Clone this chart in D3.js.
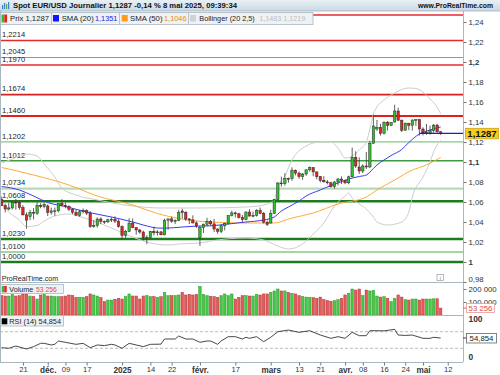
<!DOCTYPE html>
<html><head><meta charset="utf-8">
<script src="https://cdn.jsdelivr.net/npm/d3@7"></script>
<style>
body{margin:0;background:#fff}
svg{display:block;font-family:"Liberation Sans",Arial,sans-serif}
</style>
</head><body>
<svg id="c" width="500" height="375"></svg>
<script>
// ---------------- DATA ----------------
const tradingDays = [
 ["2024-11",[13,14,15,18,19,20,21,22,25,26,27,28,29]],
 ["2024-12",[2,3,4,5,6,9,10,11,12,13,16,17,18,19,20,23,24,26,27,30,31]],
 ["2025-01",[2,3,6,7,8,9,10,13,14,15,16,17,20,21,22,23,24,27,28,29,30,31]],
 ["2025-02",[3,4,5,6,7,10,11,12,13,14,17,18,19,20,21,24,25,26,27,28]],
 ["2025-03",[3,4,5,6,7,10,11,12,13,14,17,18,19,20,21,24,25,26,27,28,31]],
 ["2025-04",[1,2,3,4,7,8,9,10,11,14,15,16,17,18,21,22,23,24,25,28,29,30]],
 ["2025-05",[1,2,5,6,7,8]]
];
const futureDays = ["2025-05-09","2025-05-12","2025-05-13","2025-05-14","2025-05-15","2025-05-16"];

const open = [
 1.0623,1.0564,1.0530,1.0541,1.0598,1.0596,1.0544,1.0472,1.0455,1.0496,1.0488,1.0567,1.0553,
 1.0560,1.0497,1.0511,1.0512,1.0586,1.0565,1.0554,1.0527,1.0497,1.0468,1.0502,1.0513,1.0489,1.0353,1.0365,1.0430,1.0406,1.0402,1.0422,1.0427,1.0409,
 1.0354,1.0265,1.0307,1.0388,1.0343,1.0320,1.0300,1.0244,1.0244,1.0307,1.0292,1.0301,1.0272,1.0418,1.0431,1.0408,1.0414,1.0510,1.0494,1.0430,1.0421,1.0391,
 1.0245,1.0343,1.0378,1.0404,1.0381,1.0330,1.0307,1.0362,1.0384,1.0465,1.0491,1.0482,1.0446,1.0424,1.0500,1.0459,1.0466,1.0514,1.0486,1.0398,
 1.0390,1.0486,1.0625,1.0790,1.0784,1.0834,1.0833,1.0918,1.0889,1.0853,1.0880,1.0922,1.0944,1.0901,1.0853,1.0816,1.0801,1.0792,1.0754,1.0800,1.0830,
 1.0815,1.0792,1.0852,1.1047,1.0950,1.0910,1.0960,1.0950,1.1186,1.1330,1.1347,1.1287,1.1398,1.1365,1.1400,1.1510,1.1418,1.1318,1.1388,1.1366,1.1420,1.1424,
 1.1330,1.1292,1.1290,1.1315,1.1369,1.1302
];
const high = [
 1.0654,1.0584,1.0594,1.0609,1.0630,1.0609,1.0568,1.0496,1.0522,1.0540,1.0597,1.0588,1.0596,
 1.0577,1.0544,1.0545,1.0589,1.0629,1.0594,1.0567,1.0539,1.0525,1.0521,1.0536,1.0527,1.0510,1.0420,1.0446,1.0446,1.0414,1.0433,1.0447,1.0457,1.0427,
 1.0367,1.0321,1.0437,1.0436,1.0347,1.0331,1.0313,1.0267,1.0311,1.0354,1.0319,1.0310,1.0434,1.0434,1.0453,1.0427,1.0521,1.0533,1.0509,1.0440,1.0467,1.0407,
 1.0360,1.0385,1.0442,1.0420,1.0431,1.0336,1.0375,1.0395,1.0469,1.0513,1.0505,1.0492,1.0469,1.0505,1.0528,1.0505,1.0528,1.0545,1.0500,1.0416,
 1.0523,1.0630,1.0797,1.0854,1.0889,1.0845,1.0947,1.0925,1.0905,1.0890,1.0925,1.0955,1.0946,1.0903,1.0860,1.0858,1.0820,1.0803,1.0811,1.0840,1.0856,
 1.0823,1.0864,1.1144,1.1107,1.1046,1.0978,1.1100,1.1213,1.1473,1.1421,1.1381,1.1405,1.1410,1.1398,1.1573,1.1543,1.1425,1.1394,1.1391,1.1424,1.1425,1.1425,
 1.1347,1.1380,1.1364,1.1379,1.1381,1.1310
];
const low = [
 1.0560,1.0496,1.0516,1.0524,1.0523,1.0523,1.0463,1.0332,1.0418,1.0425,1.0471,1.0537,1.0537,
 1.0460,1.0474,1.0462,1.0497,1.0554,1.0537,1.0510,1.0480,1.0461,1.0451,1.0485,1.0469,1.0342,1.0343,1.0344,1.0380,1.0381,1.0389,1.0399,1.0389,1.0343,
 1.0226,1.0242,1.0302,1.0338,1.0273,1.0282,1.0215,1.0178,1.0234,1.0264,1.0264,1.0267,1.0267,1.0322,1.0392,1.0380,1.0409,1.0434,1.0410,1.0380,1.0385,1.0340,
 1.0160,1.0290,1.0357,1.0362,1.0301,1.0282,1.0288,1.0316,1.0373,1.0455,1.0445,1.0434,1.0400,1.0417,1.0456,1.0447,1.0454,1.0478,1.0385,1.0360,
 1.0385,1.0479,1.0618,1.0754,1.0763,1.0793,1.0812,1.0866,1.0832,1.0822,1.0862,1.0903,1.0858,1.0827,1.0797,1.0797,1.0776,1.0744,1.0733,1.0766,1.0780,
 1.0778,1.0777,1.0847,1.0940,1.0881,1.0890,1.0930,1.0943,1.1186,1.1311,1.1265,1.1276,1.1315,1.1359,1.1395,1.1410,1.1300,1.1313,1.1318,1.1314,1.1361,1.1265,
 1.1266,1.1273,1.1273,1.1293,1.1293,1.1270
];
const close = [
 1.0564,1.0530,1.0541,1.0598,1.0596,1.0544,1.0472,1.0418,1.0496,1.0488,1.0567,1.0553,1.0577,
 1.0497,1.0511,1.0512,1.0586,1.0568,1.0554,1.0527,1.0497,1.0468,1.0502,1.0513,1.0489,1.0353,1.0365,1.0430,1.0406,1.0402,1.0422,1.0427,1.0409,1.0354,
 1.0265,1.0307,1.0388,1.0343,1.0320,1.0300,1.0244,1.0244,1.0307,1.0292,1.0301,1.0272,1.0418,1.0431,1.0408,1.0414,1.0495,1.0494,1.0430,1.0421,1.0391,1.0362,
 1.0343,1.0378,1.0404,1.0381,1.0330,1.0307,1.0362,1.0384,1.0465,1.0491,1.0482,1.0446,1.0424,1.0500,1.0459,1.0466,1.0514,1.0486,1.0398,1.0375,
 1.0486,1.0625,1.0790,1.0784,1.0834,1.0833,1.0918,1.0889,1.0853,1.0880,1.0922,1.0944,1.0901,1.0853,1.0816,1.0801,1.0792,1.0754,1.0800,1.0830,1.0815,
 1.0792,1.0852,1.1047,1.0960,1.0910,1.0960,1.0950,1.1186,1.1360,1.1347,1.1287,1.1398,1.1365,1.1395,1.1510,1.1418,1.1318,1.1388,1.1366,1.1420,1.1424,1.1330,
 1.1292,1.1298,1.1315,1.1369,1.1302,1.1287
];
const volume = [
 149000,146000,146000,159000,146000,149000,162000,162000,146000,141000,123000,154000,159000,
 146000,146000,141000,141000,141000,146000,154000,151000,136000,136000,136000,141000,162000,154000,146000,133000,103000,115000,115000,121000,128000,
 123000,141000,162000,146000,146000,123000,146000,149000,141000,141000,136000,141000,174000,149000,149000,149000,154000,174000,154000,159000,154000,159000,
 220000,159000,149000,144000,141000,136000,149000,162000,149000,162000,123000,136000,149000,149000,146000,146000,159000,154000,162000,162000,
 174000,185000,200000,185000,185000,174000,167000,162000,149000,141000,138000,136000,133000,128000,138000,118000,110000,105000,110000,118000,128000,
 154000,167000,200000,192000,200000,149000,192000,185000,190000,146000,138000,141000,128000,103000,128000,154000,138000,118000,115000,123000,123000,115000,
 123000,123000,123000,125000,125000,53256
];

const sma20 = [
 ["2024-11-13",1.0755],["2024-11-20",1.0720],["2024-11-26",1.0660],["2024-12-02",1.0595],["2024-12-09",1.0555],
 ["2024-12-17",1.0500],["2024-12-27",1.0450],["2025-01-07",1.0400],["2025-01-10",1.0370],["2025-01-16",1.0340],
 ["2025-01-20",1.0338],["2025-01-27",1.0350],["2025-02-03",1.0360],["2025-02-06",1.0362],["2025-02-13",1.0380],
 ["2025-02-20",1.0400],["2025-02-27",1.0420],["2025-03-04",1.0450],["2025-03-06",1.0510],["2025-03-10",1.0550],
 ["2025-03-13",1.0610],["2025-03-17",1.0660],["2025-03-21",1.0720],["2025-03-26",1.0765],["2025-03-28",1.0790],
 ["2025-04-02",1.0830],["2025-04-07",1.0855],["2025-04-09",1.0870],["2025-04-11",1.0935],["2025-04-14",1.0970],
 ["2025-04-16",1.1020],["2025-04-18",1.1065],["2025-04-23",1.1125],["2025-04-25",1.1195],["2025-04-30",1.1280],
 ["2025-05-05",1.1320],["2025-05-08",1.1351]
];
const sma50 = [
 ["2024-11-13",1.0945],["2024-11-26",1.0870],["2024-12-10",1.0770],["2024-12-20",1.0660],["2025-01-07",1.0570],
 ["2025-01-16",1.0485],["2025-01-24",1.0435],["2025-02-06",1.0400],["2025-02-20",1.0390],["2025-03-04",1.0390],
 ["2025-03-11",1.0440],["2025-03-19",1.0490],["2025-03-28",1.0580],["2025-04-09",1.0650],["2025-04-14",1.0720],
 ["2025-04-21",1.0820],["2025-04-28",1.0920],["2025-05-02",1.0970],["2025-05-08",1.1046]
];
const bollUpper = [
 ["2024-11-13",1.0990],["2024-11-18",1.1030],["2024-11-22",1.1080],["2024-11-27",1.1060],["2024-11-29",1.0980],
 ["2024-12-04",1.0850],["2024-12-06",1.0740],["2024-12-12",1.0670],["2024-12-20",1.0620],["2025-01-07",1.0560],
 ["2025-01-17",1.0540],["2025-02-03",1.0540],["2025-02-20",1.0550],["2025-02-27",1.0570],["2025-03-04",1.0620],
 ["2025-03-05",1.0750],["2025-03-07",1.0860],["2025-03-11",1.1020],["2025-03-17",1.1160],["2025-03-21",1.1200],
 ["2025-03-26",1.1200],["2025-03-28",1.1140],["2025-04-01",1.1040],["2025-04-03",1.1060],["2025-04-07",1.1120],
 ["2025-04-09",1.1200],["2025-04-10",1.1330],["2025-04-11",1.1480],["2025-04-14",1.1550],["2025-04-16",1.1620],
 ["2025-04-21",1.1690],["2025-04-23",1.1725],["2025-04-25",1.1740],["2025-04-29",1.1735],["2025-05-01",1.1700],
 ["2025-05-05",1.1630],["2025-05-07",1.1550],["2025-05-08",1.1483]
];
const bollLower = [
 ["2024-11-13",1.0580],["2024-11-15",1.0500],["2024-11-20",1.0420],["2024-11-22",1.0355],["2024-11-27",1.0365],
 ["2024-11-29",1.0410],["2024-12-04",1.0460],["2024-12-10",1.0480],["2024-12-13",1.0455],["2024-12-19",1.0410],
 ["2024-12-27",1.0340],["2025-01-07",1.0250],["2025-01-14",1.0190],["2025-01-21",1.0170],["2025-01-24",1.0180],
 ["2025-02-03",1.0190],["2025-02-06",1.0210],["2025-02-20",1.0240],["2025-02-27",1.0220],["2025-03-05",1.0160],
 ["2025-03-10",1.0130],["2025-03-14",1.0180],["2025-03-19",1.0280],["2025-03-24",1.0390],["2025-03-27",1.0560],
 ["2025-04-01",1.0660],["2025-04-02",1.0690],["2025-04-03",1.0640],["2025-04-07",1.0580],["2025-04-09",1.0530],
 ["2025-04-11",1.0450],["2025-04-14",1.0400],["2025-04-17",1.0370],["2025-04-23",1.0400],["2025-04-25",1.0500],
 ["2025-04-28",1.0650],["2025-05-01",1.0850],["2025-05-05",1.1000],["2025-05-06",1.1100],["2025-05-08",1.1219]
];
const rsi = [
 ["2024-11-13",31.5],["2024-11-15",30],["2024-11-19",35.5],["2024-11-22",28.3],["2024-11-26",34],["2024-11-28",42],
 ["2024-11-29",42],["2024-12-03",38],["2024-12-04",39.6],["2024-12-05",47.6],["2024-12-09",44.4],["2024-12-12",39.6],
 ["2024-12-16",42],["2024-12-18",31.5],["2024-12-20",38],["2024-12-24",36.5],["2024-12-27",39.6],["2024-12-30",38],
 ["2025-01-02",30],["2025-01-06",42],["2025-01-08",38],["2025-01-10",34],["2025-01-14",39.6],["2025-01-17",40],
 ["2025-01-20",52.4],["2025-01-23",52.4],["2025-01-24",59.6],["2025-01-28",52.4],["2025-01-30",52.4],["2025-02-03",44.4],
 ["2025-02-05",47.6],["2025-02-06",47.6],["2025-02-10",39.6],["2025-02-11",47.6],["2025-02-13",58],["2025-02-17",58],
 ["2025-02-19",52.4],["2025-02-20",56.5],["2025-02-21",54],["2025-02-25",58],["2025-02-27",46],["2025-03-03",56.5],
 ["2025-03-05",70],["2025-03-10",74],["2025-03-13",68.5],["2025-03-18",72.4],["2025-03-21",62],["2025-03-26",54],
 ["2025-03-28",58],["2025-04-01",54],["2025-04-03",68.5],["2025-04-07",60.4],["2025-04-09",60.4],["2025-04-10",72.4],
 ["2025-04-14",72.4],["2025-04-16",72],["2025-04-21",75.7],["2025-04-22",62],["2025-04-24",61],["2025-04-28",62],
 ["2025-05-01",54],["2025-05-05",54],["2025-05-06",56.5],["2025-05-08",54.854]
];

const topResistance = 1.2470; // line visible at the very top, its label hidden under the legend
const resistanceLevels = [1.2214, 1.2045, 1.1970, 1.1674, 1.1460];
const supportLevels = [1.1202, 1.1012, 1.0734, 1.0608, 1.0230, 1.0100, 1.0000];

const priceTicks = [0.98,1.00,1.02,1.04,1.06,1.08,1.10,1.12,1.14,1.16,1.18,1.20,1.22,1.24];
const boldPriceTicks = [1.00,1.10,1.20];
const volumeTicks = [100000,200000];
const rsiTicks = [0,100];
const rsiGuides = [30,70];
const xTicks = [
 ["2024-11-21","21"],["2024-12-02","déc."],["2024-12-09","09"],["2024-12-17","17"],["2025-01-02","2025"],
 ["2025-01-14","14"],["2025-01-22","22"],["2025-02-03","févr."],["2025-02-17","17"],["2025-03-03","mars"],
 ["2025-03-13","13"],["2025-03-21","21"],["2025-04-01","avr."],["2025-04-08","08"],["2025-04-16","16"],
 ["2025-04-24","24"],["2025-05-01","mai"],["2025-05-12","12"]
];
const boldXTicks = ["déc.","2025","févr.","mars","avr.","mai"];

const titleText = "Spot EUR/USD Journalier 1,1287 -0,14 % 8 mai 2025, 09:39:34";
const lastPrice = 1.1287, lastSma20 = 1.1351, lastSma50 = 1.1046, lastUpper = 1.1483, lastLower = 1.1219;

// ---------------- BUILD ----------------
const pad = n => String(n).padStart(2,"0");
const days = tradingDays.flatMap(([m, ds]) => ds.map(d => `${m}-${pad(d)}`));
const allDays = days.concat(futureDays);
const candles = days.map((d,i)=>({d, o:open[i], h:high[i], l:low[i], c:close[i], v:volume[i]}));

const loc = d3.formatLocale({decimal:",", thousands:"\u00a0", grouping:[3], currency:["",""]});
const fTick = loc.format(".2~f");
const fP4 = loc.format(".4f");
const fVol = loc.format(",d");
const fR = loc.format(".3f");

const AX = 463;
const x = d3.scalePoint().domain(allDays).range([1.7, 461.9]);
const y = d3.scaleLinear().domain([1.0, 1.24]).range([262, 22]);
const yV = d3.scaleLinear().domain([0, 200000]).range([315, 289]);
const yR = d3.scaleLinear().domain([0, 100]).range([360.75, 319.25]);

const svg = d3.select("#c");
const defs = svg.append("defs");
const hg = defs.append("linearGradient").attr("id","hg").attr("x1",0).attr("x2",0).attr("y1",0).attr("y2",1);
hg.append("stop").attr("offset","0").attr("stop-color","#e9f0f5");
hg.append("stop").attr("offset","1").attr("stop-color","#cbd9e3");
defs.append("clipPath").attr("id","cp").append("rect").attr("x",0).attr("y",11).attr("width",AX).attr("height",271);
defs.append("clipPath").attr("id","cpv").append("rect").attr("x",0).attr("y",282).attr("width",AX).attr("height",33);
defs.append("clipPath").attr("id","cpr").append("rect").attr("x",0).attr("y",315).attr("width",AX).attr("height",47);

svg.append("rect").attr("width",500).attr("height",375).attr("fill","#fff");

// ---- level lines
const levelStyle = {
 1.2470:["#e52b2b",1.5], 1.2214:["#e52b2b",1.5], 1.2045:["#f07070",1.1], 1.1970:["#e52b2b",1.3],
 1.1674:["#d61f1f",1.6], 1.1460:["#e11f1f",1.8],
 1.1202:["#86c886",1.2], 1.1012:["#3f9a3f",1.4], 1.0734:["#b4dcb4",2.4], 1.0608:["#1f7a1f",2.4],
 1.0230:["#1f7a1f",2.4], 1.0100:["#86c886",1.4], 1.0000:["#1f7a1f",2.4]
};
const levels = resistanceLevels.concat(supportLevels);
const gl = svg.append("g").attr("clip-path","url(#cp)");
gl.selectAll("line").data([topResistance].concat(levels)).join("line")
 .attr("x1",0).attr("x2",AX).attr("y1",d=>y(d)).attr("y2",d=>y(d))
 .attr("stroke",d=>levelStyle[d][0]).attr("stroke-width",d=>levelStyle[d][1]);
gl.selectAll("text").data(levels).join("text")
 .attr("x",2).attr("y",d=>y(d)-3.2).attr("font-size",7.6).attr("fill","#222").text(fP4);

// ---- indicators
const lineGen = d3.line().x(d=>x(d[0])).y(d=>y(d[1])).curve(d3.curveMonotoneX);
const gi = svg.append("g").attr("clip-path","url(#cp)").attr("fill","none");
gi.append("path").attr("d",lineGen(bollUpper)).attr("stroke","#cdcdcd").attr("stroke-width",1);
gi.append("path").attr("d",lineGen(bollLower)).attr("stroke","#cdcdcd").attr("stroke-width",1);
gi.append("path").attr("d",lineGen(sma50)).attr("stroke","#ffaa3a").attr("stroke-width",1);
gi.append("path").attr("d",lineGen(sma20)).attr("stroke","#3a3af0").attr("stroke-width",1);

// ---- candles
const gc = svg.append("g").attr("clip-path","url(#cp)");
const up = d => d.c >= d.o;
gc.selectAll("line").data(candles).join("line")
 .attr("x1",d=>x(d.d)).attr("x2",d=>x(d.d)).attr("y1",d=>y(d.h)).attr("y2",d=>y(d.l))
 .attr("stroke","#3a3a3a").attr("stroke-width",0.8);
gc.selectAll("rect").data(candles).join("rect")
 .attr("x",d=>x(d.d)-1.2).attr("width",2.4)
 .attr("y",d=>y(Math.max(d.o,d.c))).attr("height",d=>Math.max(0.8, Math.abs(y(d.o)-y(d.c))))
 .attr("fill",d=>up(d)?"#2fbf2f":"#e32222").attr("stroke","#2a2a2a").attr("stroke-width",0.5);

// ---- last price line
svg.append("line").attr("x1",x("2025-04-30")).attr("x2",AX).attr("y1",y(lastPrice)).attr("y2",y(lastPrice))
 .attr("stroke","#1a1ad8").attr("stroke-width",1.2);

// ---- volume
const gv = svg.append("g").attr("clip-path","url(#cpv)");
gv.selectAll("rect").data(candles).join("rect")
 .attr("x",d=>x(d.d)-1.25).attr("width",2.5)
 .attr("y",d=>yV(d.v)).attr("height",d=>yV(0)-yV(d.v))
 .attr("fill",d=>up(d)?"#44c944":"#e45a5a").attr("stroke",d=>up(d)?"#2c9a2c":"#b43434").attr("stroke-width",0.5);

// ---- RSI
const gr = svg.append("g").attr("clip-path","url(#cpr)");
gr.selectAll("line.g").data(rsiGuides).join("line").attr("class","g")
 .attr("x1",0).attr("x2",AX).attr("y1",d=>yR(d)).attr("y2",d=>yR(d))
 .attr("stroke","#a8a8a8").attr("stroke-width",0.8).attr("stroke-dasharray","3,2");
gr.append("path").attr("d",d3.line().x(d=>x(d[0])).y(d=>yR(d[1]))(rsi))
 .attr("fill","none").attr("stroke","#333").attr("stroke-width",0.9);

// ---- panel separators and frame
const sepCol = "#a9b7c1";
[282,315,362].forEach(v=>svg.append("line").attr("x1",0).attr("x2",AX).attr("y1",v+0.5).attr("y2",v+0.5).attr("stroke",sepCol));
svg.append("line").attr("x1",AX+0.5).attr("x2",AX+0.5).attr("y1",11).attr("y2",362).attr("stroke",sepCol);
svg.append("line").attr("x1",0.5).attr("x2",0.5).attr("y1",11).attr("y2",362).attr("stroke",sepCol);

// ---- axes
function styleAxis(g, boldFn){
 g.select(".domain").remove();
 g.selectAll(".tick line").attr("stroke","#777");
 g.selectAll(".tick text").attr("fill","#333").attr("font-size",7.8)
  .attr("font-family","'Liberation Sans',Arial,sans-serif")
  .attr("font-weight",d=>boldFn(d)?"bold":"normal");
}
svg.append("g").attr("transform",`translate(${AX+0.5},0)`)
 .call(d3.axisRight(y).tickValues(priceTicks).tickSize(3).tickPadding(2).tickFormat(fTick))
 .call(g=>styleAxis(g,d=>boldPriceTicks.some(b=>Math.abs(b-d)<1e-9)))
 .call(g=>g.selectAll(".tick text").attr("dy",d=>d<0.99?"-0.05em":"0.32em"));
svg.append("g").attr("transform",`translate(${AX+0.5},0)`)
 .call(d3.axisRight(yV).tickValues(volumeTicks).tickSize(3).tickPadding(2).tickFormat(fVol))
 .call(g=>styleAxis(g,()=>false));
svg.append("g").attr("transform",`translate(${AX+0.5},0)`)
 .call(d3.axisRight(yR).tickValues(rsiTicks).tickSize(0).tickPadding(5).tickFormat(d3.format("d")))
 .call(g=>styleAxis(g,()=>true))
 .call(g=>g.selectAll(".tick text").attr("font-size",8.4).attr("dy",d=>d===0?"-0.2em":"0.32em"));
const xLabel = new Map(xTicks);
svg.append("g").attr("transform","translate(0,362.5)")
 .call(d3.axisBottom(x).tickValues(xTicks.map(t=>t[0])).tickSize(3).tickPadding(1.5).tickFormat(d=>xLabel.get(d)))
 .call(g=>styleAxis(g,d=>boldXTicks.includes(xLabel.get(d))))
 .call(g=>g.selectAll(".tick text").attr("font-size",d=>boldXTicks.includes(xLabel.get(d))?8.2:7.6));

// ---- right side value boxes
const pb = svg.append("g");
pb.append("rect").attr("x",465.5).attr("y",y(lastPrice)-5).attr("width",33).attr("height",10.5)
 .attr("fill","#f9cc1c").attr("stroke","#c9a21a").attr("stroke-width",0.8);
pb.append("text").attr("x",482).attr("y",y(lastPrice)+3.6).attr("text-anchor","middle")
 .attr("font-size",9.6).attr("font-weight","bold").attr("fill","#111").text(fP4(lastPrice));
const lastVol = volume[volume.length-1];
pb.append("rect").attr("x",466.5).attr("y",yV(lastVol)-4.5).attr("width",28).attr("height",9)
 .attr("fill","#fff").attr("stroke","#e79a9a").attr("stroke-width",0.8);
pb.append("line").attr("x1",AX).attr("x2",466.5).attr("y1",yV(lastVol)).attr("y2",yV(lastVol)).attr("stroke","#e06060");
pb.append("text").attr("x",480.5).attr("y",yV(lastVol)+2.8).attr("text-anchor","middle")
 .attr("font-size",7.8).attr("fill","#e04848").text(fVol(lastVol));
const lastRsi = rsi[rsi.length-1][1];
pb.append("rect").attr("x",466.5).attr("y",yR(lastRsi)-4.5).attr("width",30).attr("height",9.5)
 .attr("fill","#fff").attr("stroke","#666").attr("stroke-width",0.8);
pb.append("line").attr("x1",AX).attr("x2",466.5).attr("y1",yR(lastRsi)).attr("y2",yR(lastRsi)).attr("stroke","#444");
pb.append("text").attr("x",481.5).attr("y",yR(lastRsi)+2.9).attr("text-anchor","middle")
 .attr("font-size",7.8).attr("fill","#222").text(fR(lastRsi));

// ---- header
svg.append("rect").attr("x",0).attr("y",0).attr("width",500).attr("height",11).attr("fill","url(#hg)");
svg.append("line").attr("x1",0).attr("x2",500).attr("y1",11).attr("y2",11).attr("stroke","#9fb1be").attr("stroke-width",0.8);
const ic = svg.append("g");
[[2,5,1.2,4,"#3b7fd8"],[4,3,1.2,6,"#3b7fd8"],[6,4,1.2,5,"#55b04a"],[8,2,1.2,7,"#3b7fd8"]]
 .forEach(r=>ic.append("rect").attr("x",r[0]).attr("y",r[1]).attr("width",r[2]).attr("height",r[3]).attr("fill",r[4]));
svg.append("text").attr("x",13).attr("y",8.4).attr("font-size",7.4).attr("font-weight","bold").attr("fill","#111")
 .attr("textLength",224).attr("lengthAdjust","spacingAndGlyphs").text(titleText);
svg.append("text").attr("x",418).attr("y",8.4).attr("font-size",6.8).attr("font-weight","bold")
 .attr("fill","#111").attr("textLength",75).attr("lengthAdjust","spacingAndGlyphs").text("www.ProRealTime.com");

// ---- price legend
const lg = svg.append("g");
lg.append("rect").attr("x",0.5).attr("y",12.5).attr("width",312.5).attr("height",12).attr("fill","#eef2f5").attr("stroke","#aab7c1").attr("stroke-width",0.8);
[51.5,119.5,188.5].forEach(v=>lg.append("line").attr("x1",v).attr("x2",v).attr("y1",12.5).attr("y2",24.5).attr("stroke","#aab7c1").attr("stroke-width",0.8));
lg.append("rect").attr("x",1.5).attr("y",14.5).attr("width",2.8).attr("height",8).attr("fill","#2fbf2f");
lg.append("rect").attr("x",4.3).attr("y",14.5).attr("width",2.8).attr("height",8).attr("fill","#e32222");
lg.append("rect").attr("x",53).attr("y",15).attr("width",6).attr("height",6.5).attr("fill","#1414ff");
lg.append("rect").attr("x",121.7).attr("y",15).attr("width",6).attr("height",6.5).attr("fill","#ff9a1a");
lg.append("rect").attr("x",190).attr("y",15).attr("width",6).attr("height",6.5).attr("fill","#d2d2d2");
const lt = (xx,w,txt,col)=>lg.append("text").attr("x",xx).attr("y",21.4).attr("font-size",8).attr("fill",col)
 .attr("textLength",w).attr("lengthAdjust","spacingAndGlyphs").text(txt);
lt(10,39,"Prix "+fP4(lastPrice),"#222");
lt(61.7,32,"SMA (20)","#222"); lt(95,22.3,fP4(lastSma20),"#2020e0");
lt(130,32.5,"SMA (50)","#222"); lt(164,22.5,fP4(lastSma50),"#f08a00");
lt(199.3,55.5,"Bollinger (20 2,5)","#222"); lt(259.3,46,fP4(lastUpper)+"  "+fP4(lastLower),"#bdbdbd");

// ---- footer of price panel
svg.append("text").attr("x",1.7).attr("y",281).attr("font-size",7.8).attr("fill","#222")
 .attr("textLength",56.5).attr("lengthAdjust","spacingAndGlyphs").text("ProRealTime.com");
svg.append("rect").attr("x",437).attr("y",274.5).attr("width",6.5).attr("height",6).attr("fill","#fff").attr("stroke","#999").attr("stroke-width",0.7);
svg.append("text").attr("x",440.25).attr("y",279.7).attr("text-anchor","middle").attr("font-size",5.5).attr("fill","#777").text("i");

// ---- volume legend
const vl = svg.append("g");
vl.append("rect").attr("x",0.5).attr("y",284.5).attr("width",63).attr("height",9).attr("fill","#eef2f5").attr("stroke","#aab7c1").attr("stroke-width",0.8);
vl.append("rect").attr("x",1.7).attr("y",286).attr("width",2.5).attr("height",6.3).attr("fill","#2fbf2f");
vl.append("rect").attr("x",4.2).attr("y",286).attr("width",2.5).attr("height",6.3).attr("fill","#e32222");
vl.append("text").attr("x",9.3).attr("y",291.8).attr("font-size",7.8).attr("fill","#222").attr("textLength",24).attr("lengthAdjust","spacingAndGlyphs").text("Volume");
vl.append("text").attr("x",36).attr("y",291.8).attr("font-size",7.8).attr("fill","#e04848").attr("textLength",20.7).attr("lengthAdjust","spacingAndGlyphs").text(fVol(lastVol));

// ---- RSI legend
const rl = svg.append("g");
rl.append("rect").attr("x",0.5).attr("y",315.5).attr("width",63).attr("height",10.5).attr("fill","#eef2f5").attr("stroke","#aab7c1").attr("stroke-width",0.8);
rl.append("rect").attr("x",1.7).attr("y",318.3).attr("width",5.6).attr("height",6).attr("fill","#000");
rl.append("text").attr("x",9.3).attr("y",323.8).attr("font-size",7.8).attr("fill","#222").attr("textLength",51.7).attr("lengthAdjust","spacingAndGlyphs").text("RSI (14) "+fR(lastRsi));
</script>
</body></html>
